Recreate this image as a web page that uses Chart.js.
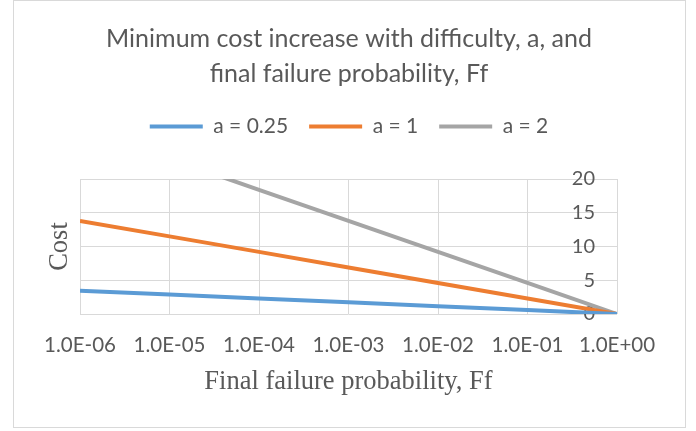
<!DOCTYPE html>
<html>
<head>
<meta charset="utf-8">
<script src="https://cdn.jsdelivr.net/npm/chart.js@4.4.1/dist/chart.umd.min.js"></script>
<style>
html, body { margin: 0; padding: 0; background: #fff; }
#wrap { position: relative; width: 696px; height: 431px; }
#frame { position: absolute; left: 13px; top: 0; width: 673px; height: 428px; border: 1px solid #d9d9d9; box-sizing: border-box; }
#chart { position: absolute; left: 0; top: 0; }
</style>
</head>
<body>
<div id="wrap">
  <div id="frame"></div>
  <canvas id="chart" width="696" height="431"></canvas>
</div>
<script>
// final failure probability, one point per decade
const ffValues = [1e-6, 1e-5, 1e-4, 1e-3, 1e-2, 1e-1, 1];
const xTickLabels = ['1.0E-06', '1.0E-05', '1.0E-04', '1.0E-03', '1.0E-02', '1.0E-01', '1.0E+00'];
const yTicks = [0, 5, 10, 15, 20];

// cost
const costA025 = [3.45, 2.88, 2.30, 1.73, 1.15, 0.58, 0];
const costA1 = [13.8, 11.5, 9.2, 6.9, 4.6, 2.3, 0];
const costA2 = [27.6, 23.0, 18.4, 13.8, 9.2, 4.6, 0];

const seriesNames = ['a = 0.25', 'a = 1', 'a = 2'];
const seriesColors = ['#5b9bd5', '#ed7d31', '#a5a5a5'];

const grey = '#595959';
const gridGrey = '#d9d9d9';

function toPoints(ys) {
    return ffValues.map((x, i) => ({ x: x, y: ys[i] }));
}

const datasets = [costA025, costA1, costA2].map((ys, i) => ({
    label: seriesNames[i],
    data: toPoints(ys),
    borderColor: seriesColors[i],
    backgroundColor: seriesColors[i],
    borderWidth: 4,
    pointRadius: 0,
    tension: 0,
    yAxisID: 'y'
}));

let ctx = document.getElementById('chart').getContext('2d');

let costChart = new Chart(ctx, {
    type: 'line',
    data: { datasets: datasets },
    options: {
        responsive: false,
        animation: false,
        layout: { padding: { left: 2, right: 0, top: 0, bottom: 33 } },
        plugins: {
            tooltip: { enabled: false },
            title: {
                display: true,
                text: ['Minimum cost increase with difficulty, a, and', 'final failure probability, Ff'],
                color: grey,
                font: { family: 'Lato', size: 25, weight: 'normal', lineHeight: 1.4 },
                padding: { top: 21, bottom: 4 }
            },
            // empty spacer between legend and plot
            subtitle: {
                display: true,
                text: '',
                weight: 500,
                font: { size: 1, lineHeight: 1 },
                padding: { top: 0, bottom: 31 }
            },
            legend: {
                display: true,
                labels: {
                    color: grey,
                    font: { family: 'Lato', size: 21 },
                    boxWidth: 53,
                    boxHeight: 4,
                    padding: 21,
                    generateLabels: function(chart) {
                        return chart.data.datasets.map((ds, i) => ({
                            text: ds.label,
                            fillStyle: seriesColors[i],
                            strokeStyle: seriesColors[i],
                            lineWidth: 0,
                            fontColor: grey,
                            datasetIndex: i
                        }));
                    }
                }
            }
        },
        scales: {
            x: {
                type: 'logarithmic',
                position: 'bottom',
                min: 1e-6,
                max: 1,
                afterBuildTicks: function(scale) {
                    scale.ticks = ffValues.map(v => ({ value: v }));
                },
                afterFit: function(scale) {
                    scale.height = 84;
                },
                ticks: {
                    autoSkip: false,
                    maxRotation: 0,
                    color: grey,
                    font: { family: 'Lato', size: 20.5 },
                    padding: 19,
                    callback: function(value) {
                        return xTickLabels[ffValues.indexOf(value)];
                    }
                },
                grid: { color: gridGrey, lineWidth: 1, drawTicks: false },
                border: { display: false },
                title: {
                    display: true,
                    text: 'Final failure probability, Ff',
                    color: grey,
                    font: { family: 'Liberation Serif', size: 26.5 },
                    padding: { top: 0, bottom: 0 }
                }
            },
            y: {
                position: 'right',
                min: 0,
                max: 20,
                afterBuildTicks: function(scale) {
                    scale.ticks = yTicks.map(v => ({ value: v }));
                },
                afterFit: function(scale) {
                    scale.width = 79;
                },
                ticks: {
                    mirror: true,
                    padding: -22,
                    color: grey,
                    font: { family: 'Lato', size: 20 }
                },
                grid: { color: gridGrey, lineWidth: 1, drawTicks: false },
                border: { display: false }
            },
            yl: {
                position: 'left',
                min: 0,
                max: 20,
                ticks: { display: false },
                grid: { display: false, drawTicks: false },
                border: { display: false },
                afterFit: function(scale) {
                    scale.width = 78;
                },
                title: {
                    display: true,
                    text: 'Cost',
                    color: grey,
                    font: { family: 'Liberation Serif', size: 26.5 },
                    padding: 42
                }
            }
        }
    }
});
</script>
</body>
</html>
